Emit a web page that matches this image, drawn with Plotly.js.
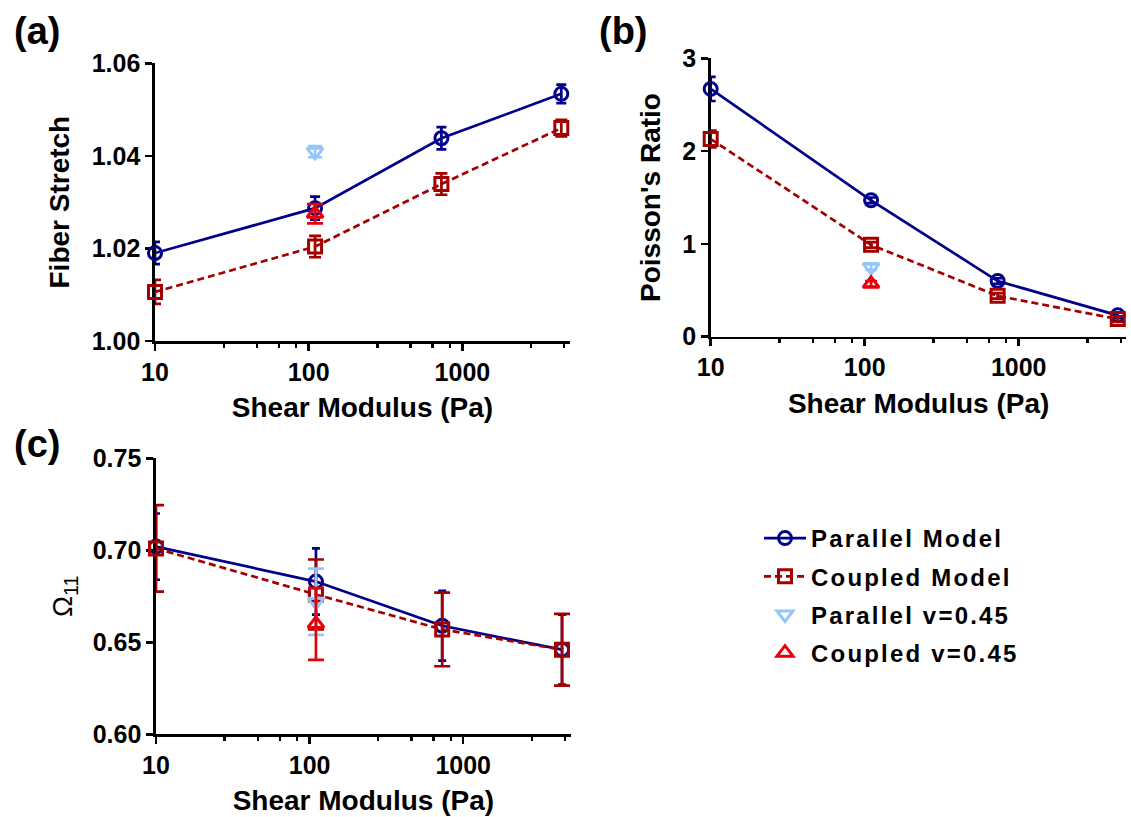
<!DOCTYPE html>
<html>
<head>
<meta charset="utf-8">
<script src="https://cdn.plot.ly/plotly-3.0.1.min.js"></script>
<style>
  html, body { margin: 0; padding: 0; background: #ffffff; }
  #chart { width: 1131px; height: 817px; }
  .legendtext { letter-spacing: 2.2px; }
</style>
</head>
<body>
<div id="chart"></div>
<script>
// Shear modulus of the matrix (Pa)
const shear = [10, 110, 730, 4400];
const shearNu = [110];

// (a) Fiber stretch
const stretchParallel = [1.0190, 1.0287, 1.0438, 1.0534];
const stretchParallelErr = [0.0024, 0.0025, 0.0024, 0.0020];
const stretchCoupled = [1.0106, 1.0204, 1.0339, 1.0460];
const stretchCoupledErr = [0.0026, 0.0023, 0.0023, 0.0018];
const stretchParallelNu = [1.0409];
const stretchParallelNuErr = [0.0012];
const stretchCoupledNu = [1.0275];
const stretchCoupledNuErr = [0.0021];

// (b) Poisson's ratio
const poissonParallel = [2.67, 1.47, 0.60, 0.23];
const poissonParallelErr = [0.13, 0.03, 0.03, 0.03];
const poissonCoupled = [2.13, 0.99, 0.44, 0.19];
const poissonCoupledErr = [0.09, 0.03, 0.03, 0.03];
const poissonParallelNu = [0.75];
const poissonParallelNuErr = [0.03];
const poissonCoupledNu = [0.57];
const poissonCoupledNuErr = [0.03];

// (c) Omega_11
const omegaParallel = [0.702, 0.683, 0.659, 0.646];
const omegaParallelErr = [0.018, 0.018, 0.019, 0.019];
const omegaCoupled = [0.701, 0.676, 0.657, 0.646];
const omegaCoupledErr = [0.0235, 0.019, 0.020, 0.0195];
const omegaParallelNu = [0.672];
const omegaParallelNuErr = [0.018];
const omegaCoupledNu = [0.660];
const omegaCoupledNuErr = [0.0195];

// Axis ticks
const xTickVals = [10, 100, 1000];
const xTickText = ['10', '100', '1000'];
const xMinorVals = [28, 46, 64, 83, 280, 460, 640, 830, 2800, 4600];
const stretchTicks = [1.00, 1.02, 1.04, 1.06];
const poissonTicks = [0, 1, 2, 3];
const omegaTicks = [0.60, 0.65, 0.70, 0.75];

const seriesNames = ['Parallel Model', 'Coupled Model', 'Parallel v=0.45', 'Coupled v=0.45'];

const FONT = 'Liberation Sans, Arial, Helvetica, sans-serif';
const BLUE = '#00008b';
const DARKRED = '#a30000';
const LIGHTBLUE = '#95c6fb';
const RED = '#e6000a';

const styles = [
  { color: BLUE, symbol: 'circle-open', dash: 'solid', mode: 'lines+markers', size: 13 },
  { color: DARKRED, symbol: 'square-open', dash: '7px,4px', mode: 'lines+markers', size: 13 },
  { color: LIGHTBLUE, symbol: 'triangle-down-open', dash: 'solid', mode: 'markers', size: 14 },
  { color: RED, symbol: 'triangle-up-open', dash: 'solid', mode: 'markers', size: 14 }
];

function makeTrace(k, axisId, x, y, err, capWidth, showLegend) {
  const s = styles[k];
  return {
    type: 'scatter',
    x: x, y: y,
    xaxis: 'x' + axisId, yaxis: 'y' + axisId,
    name: seriesNames[k],
    legendgroup: 'g' + k,
    showlegend: showLegend,
    mode: s.mode,
    cliponaxis: false,
    line: { color: s.color, width: 2.7, dash: s.dash },
    marker: { symbol: s.symbol, size: s.size, color: s.color, line: { color: s.color, width: 3 } },
    error_y: { type: 'data', array: err, visible: true, color: s.color, thickness: 2.7, width: capWidth }
  };
}

const traces = [
  // (a)
  makeTrace(0, '', shear, stretchParallel, stretchParallelErr, 5, true),
  makeTrace(1, '', shear, stretchCoupled, stretchCoupledErr, 6, true),
  makeTrace(2, '', shearNu, stretchParallelNu, stretchParallelNuErr, 7, true),
  makeTrace(3, '', shearNu, stretchCoupledNu, stretchCoupledNuErr, 8, true),
  // (b)
  makeTrace(0, '2', shear, poissonParallel, poissonParallelErr, 5, false),
  makeTrace(1, '2', shear, poissonCoupled, poissonCoupledErr, 6, false),
  makeTrace(2, '2', shearNu, poissonParallelNu, poissonParallelNuErr, 6, false),
  makeTrace(3, '2', shearNu, poissonCoupledNu, poissonCoupledNuErr, 6, false),
  // (c)
  makeTrace(0, '3', shear, omegaParallel, omegaParallelErr, 4, false),
  makeTrace(1, '3', shear, omegaCoupled, omegaCoupledErr, 8, false),
  makeTrace(2, '3', shearNu, omegaParallelNu, omegaParallelNuErr, 8, false),
  makeTrace(3, '3', shearNu, omegaCoupledNu, omegaCoupledNuErr, 8, false)
];

const tickFont = { family: FONT, size: 25, color: '#000', weight: 700 };
const titleFont = { family: FONT, size: 28, color: '#000', weight: 700 };

function xAxis(domain, anchor) {
  return {
    domain: domain, anchor: anchor,
    type: 'log', range: [1, 3.7],
    tickmode: 'array', tickvals: xTickVals, ticktext: xTickText,
    ticks: 'outside', ticklen: 7, tickwidth: 2.6, tickcolor: '#000',
    minor: { tickmode: 'array', tickvals: xMinorVals, ticks: 'outside', ticklen: 4, tickwidth: 2.4, tickcolor: '#000', showgrid: false },
    showline: true, linewidth: 2.6, linecolor: '#000',
    showgrid: false, zeroline: false,
    layer: 'below traces',
    tickfont: tickFont,
    title: { text: 'Shear Modulus (Pa)', font: titleFont, standoff: 13 }
  };
}

function yAxis(domain, anchor, range, vals, fmt, title, titleFontOverride, standoff) {
  return {
    domain: domain, anchor: anchor,
    range: range,
    tickmode: 'array', tickvals: vals, tickformat: fmt,
    ticks: 'outside', ticklen: 7, tickwidth: 2.6, tickcolor: '#000',
    showline: true, linewidth: 2.6, linecolor: '#000',
    showgrid: false, zeroline: false,
    layer: 'below traces',
    tickfont: tickFont,
    title: { text: title, font: titleFontOverride || titleFont, standoff: standoff }
  };
}

const layout = {
  width: 1131, height: 817,
  margin: { l: 0, r: 0, t: 0, b: 0 },
  paper_bgcolor: '#ffffff', plot_bgcolor: '#ffffff',
  font: { family: FONT, color: '#000' },
  showlegend: true,
  xaxis: xAxis([0.13705, 0.50398], 'y'),
  yaxis: yAxis([0.58262, 0.92252], 'x', [1.00, 1.06], stretchTicks, '.2f', 'Fiber Stretch', null, 14),
  xaxis2: xAxis([0.62838, 0.99602], 'y2'),
  yaxis2: yAxis([0.58788, 0.92864], 'x2', [0, 3], poissonTicks, 'd', "Poisson's Ratio", null, 14),
  xaxis3: xAxis([0.13793, 0.50460], 'y3'),
  yaxis3: yAxis([0.10122, 0.43905], 'x3', [0.60, 0.75], omegaTicks, '.2f', 'Ω<sub>11</sub>',
    { family: FONT, size: 28, color: '#000', weight: 400 }, 12),
  legend: {
    x: 759 / 1131, y: 1 - 516 / 817, xanchor: 'left', yanchor: 'top',
    traceorder: 'grouped', tracegroupgap: 4,
    itemwidth: 42,
    bgcolor: 'rgba(0,0,0,0)',
    font: { family: FONT, size: 24, color: '#000', weight: 700 }
  },
  annotations: [
    { text: '(a)', x: 37 / 1131, y: 1 - 31 / 817 },
    { text: '(b)', x: 623 / 1131, y: 1 - 31 / 817 },
    { text: '(c)', x: 37 / 1131, y: 1 - 444 / 817 }
  ].map(a => Object.assign({
    xref: 'paper', yref: 'paper', xanchor: 'center', yanchor: 'middle', showarrow: false,
    font: { family: FONT, size: 38, color: '#000', weight: 700 }
  }, a))
};

Plotly.newPlot('chart', traces, layout, { displayModeBar: false, staticPlot: true });
</script>
</body>
</html>
